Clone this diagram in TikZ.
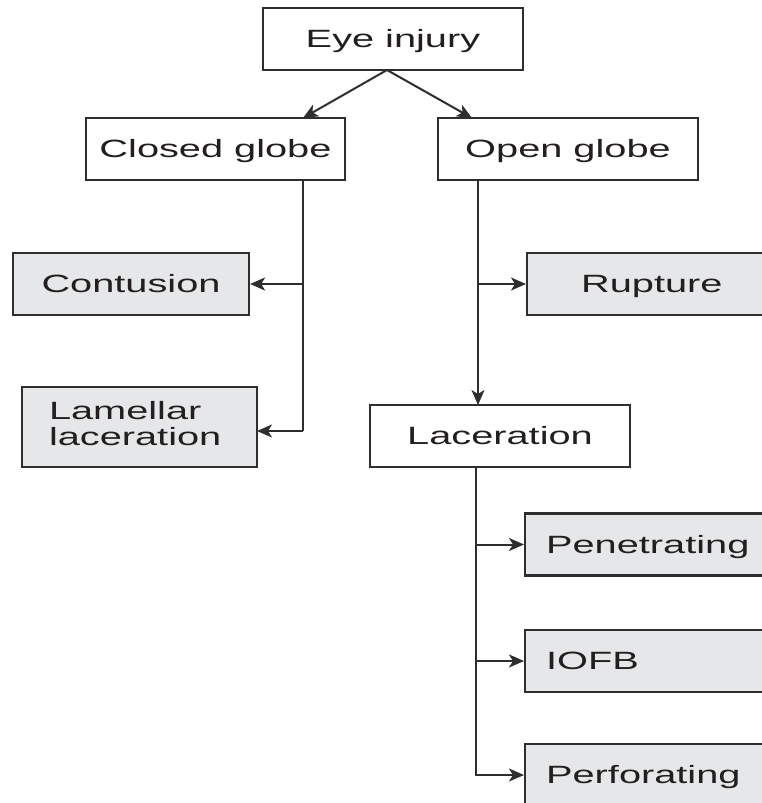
\documentclass[tikz,border=0pt]{standalone}
\usepackage{fontspec}
\setmainfont{Liberation Sans}
\usepackage{graphicx}
\usetikzlibrary{arrows.meta}
\definecolor{lc}{HTML}{2E2E2E}
\definecolor{tc}{HTML}{231F20}
\definecolor{gfill}{HTML}{E6E7E8}
\newcommand\sx[1]{\scalebox{1.59}[1]{#1}}
\begin{document}
\begin{tikzpicture}[x=1pt,y=-1pt,
  base/.style={draw=lc, line width=2.2pt, rectangle, minimum height=62pt, inner sep=0pt,
    text=tc, font=\fontsize{25pt}{25pt}\selectfont, text height=17.9pt, text depth=0pt},
  whitebox/.style={base, fill=white},
  graybox/.style={base, fill=gfill},
  rightbox/.style={graybox, anchor=west, minimum width=280pt, text width=259pt, align=left, inner xsep=21pt},
  trunk/.style={draw=lc, line width=2pt},
  conn/.style={trunk, -{Stealth[length=15pt,width=13pt,inset=4pt]}}]
\useasboundingbox (0,0) rectangle (762,803);
\clip (0,0) rectangle (762,803);
\fill[white] (0,0) rectangle (762,803);

% nodes
\node[whitebox, minimum width=260pt] (eye) at (393,39) {\sx{Eye injury}};
\node[whitebox, minimum width=259pt] (closed) at (215.5,149) {\sx{Closed globe}};
\node[whitebox, minimum width=260pt] (open) at (568,149) {\sx{Open globe}};
\node[graybox, minimum width=236pt] (cont) at (131,284) {\sx{Contusion}};
\node[graybox, minimum width=235pt, minimum height=80pt, text height=, text depth=, align=left, inner xsep=27pt, text width=181pt] (lam) at (139.5,427)
  {\sx{\begin{tabular}{@{}l@{}}Lamellar\\[1pt]laceration\end{tabular}}};
\node[rightbox, inner xsep=54pt, text width=226pt] (rup) at (526,284) {\sx{Rupture}};
\node[whitebox, minimum width=260pt] (lac) at (500,436) {\sx{Laceration}};
\node[rightbox] (pen) at (524,544.5) {\sx{Penetrating}};
\node[rightbox] (iofb) at (524,661) {\sx{IOFB}};
\node[rightbox] (perf) at (524,775) {\sx{Perforating}};

% coordinates
\coordinate (eyeOut) at (387,70);
\coordinate (cgTop) at (303,118);
\coordinate (ogTop) at (472,118);
\coordinate (cgBot) at (303,180);
\coordinate (cgEnd) at (303,431);
\coordinate (lamIn) at (257,431);
\coordinate (ogBot) at (478,180);
\coordinate (lacTop) at (478,405);
\coordinate (lacBot) at (476,467);

% connectors
\draw[conn] (eyeOut) -- (cgTop);
\draw[conn] (eyeOut) -- (ogTop);
\draw[trunk] (cgBot) -- (cgEnd);
\draw[conn] (cgBot |- cont.east) -- (cont.east);
\draw[conn] (cgEnd) -- (lamIn);
\draw[conn] (ogBot) -- (lacTop);
\draw[conn] (ogBot |- rup.west) -- (rup.west);
\draw[conn] (lacBot) |- (perf.west);
\draw[conn] (lacBot |- pen.west) -- (pen.west);
\draw[conn] (lacBot |- iofb.west) -- (iofb.west);
\end{tikzpicture}
\end{document}
